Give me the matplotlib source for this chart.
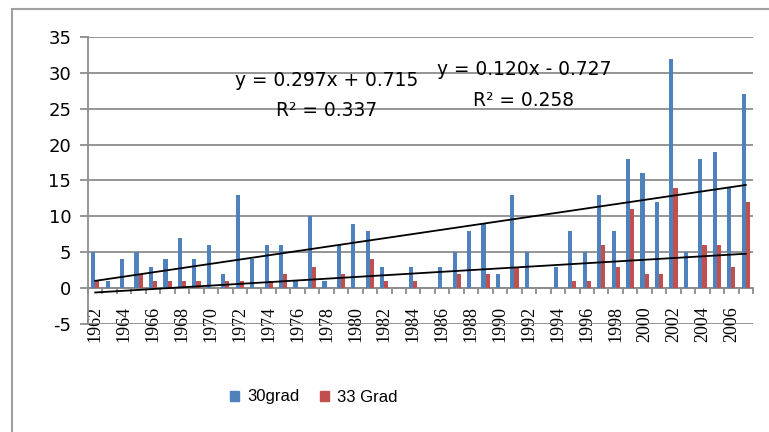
import numpy as np
import matplotlib
matplotlib.use('Agg')
import matplotlib.pyplot as plt
from matplotlib.patches import Patch, Rectangle
from matplotlib.ticker import FixedLocator

plt.rcParams['axes.unicode_minus'] = False

# Tage pro Jahr ueber 30 bzw. 33 Grad
jahre = list(range(1962, 2008))
grad30 = [5, 1, 4, 5, 3, 4, 7, 4, 6, 2, 13, 4, 6, 6, 1, 10, 1, 6, 9, 8,
          3, 0, 3, 0, 3, 5, 8, 9, 2, 13, 5, 0, 3, 8, 5, 13, 8, 18, 16, 12,
          32, 5, 18, 19, 14, 27]
grad33 = [1, 0, 0, 2, 1, 1, 1, 1, 0, 1, 1, 0, 1, 2, 0, 3, 0, 2, 0, 4,
          1, 0, 1, 0, 0, 2, 0, 2, 0, 3, 0, 0, 0, 1, 1, 6, 3, 11, 2, 2,
          14, 0, 6, 6, 3, 12]

# lineare Trends (x = laufende Nummer des Jahres)
trend30 = (0.297, 0.715, 0.337)
trend33 = (0.120, -0.727, 0.258)

blau = '#4F81BD'
rot = '#C0504D'
grau = '#8C8C8C'

fig = plt.figure(figsize=(7.69, 4.32), dpi=100)
ax = fig.add_axes([88/769, 0.25, (753-88)/769, 0.6644])

x = np.arange(1, len(jahre) + 1)
w = 0.286
ax.bar(x - w/2, grad30, w, color=blau, zorder=3)
ax.bar(x + w/2, grad33, w, color=rot, zorder=3)

# Trendlinien
for m, b, r2 in (trend30, trend33):
    xs = np.array([x[0], x[-1]])
    ax.plot(xs, m * xs + b, color='black', lw=1.3, zorder=4)

ax.text(17.0, 29.0, 'y = 0.297x + 0.715', ha='center', va='center', fontsize=13.4, zorder=5)
ax.text(17.0, 24.8, 'R² = 0.337', ha='center', va='center', fontsize=13.4, zorder=5)
ax.text(30.65, 30.4, 'y = 0.120x - 0.727', ha='center', va='center', fontsize=13.4, zorder=5)
ax.text(30.65, 26.2, 'R² = 0.258', ha='center', va='center', fontsize=13.4, zorder=5)

ax.set_xlim(0.5, len(jahre) + 0.5)
ax.set_ylim(-5, 35)
ax.set_yticks(range(-5, 36, 5))
ax.yaxis.grid(True, color=grau, lw=1.3, zorder=0)
ax.tick_params(axis='y', length=6, width=1.3, color=grau, pad=6, labelsize=13)

ax.spines['top'].set_visible(False)
ax.spines['right'].set_visible(False)
ax.spines['left'].set_color(grau)
ax.spines['left'].set_linewidth(1.3)
ax.spines['bottom'].set_position(('data', 0))
ax.spines['bottom'].set_color(grau)
ax.spines['bottom'].set_linewidth(1.3)

ax.set_xticks(x[::2])
ax.set_xticklabels([str(j) for j in jahre[::2]], rotation=90)
ax.tick_params(axis='x', which='major', length=0, pad=13, labelsize=13,
               labelfontfamily='Liberation Serif')
ax.xaxis.set_minor_locator(FixedLocator(np.arange(0.5, len(jahre) + 1, 1)))
ax.tick_params(axis='x', which='minor', length=4, width=1.3, color=grau)

handles = [Patch(color=blau, label='30grad'), Patch(color=rot, label='33 Grad')]
fig.legend(handles=handles, loc='center', bbox_to_anchor=(314/769, 1 - 397/432),
           ncol=2, frameon=False, handlelength=0.55, handleheight=0.55,
           handletextpad=0.5, columnspacing=1.2,
           prop={'family': 'Liberation Sans', 'size': 12})

# Rahmen um das Diagramm
fig.patches.append(Rectangle((12/769, -0.1), 1.0, 1.1 - 9/432, transform=fig.transFigure,
                             fill=False, edgecolor='#A0A0A0', lw=1.5))

fig.savefig('out.png', dpi=100)
